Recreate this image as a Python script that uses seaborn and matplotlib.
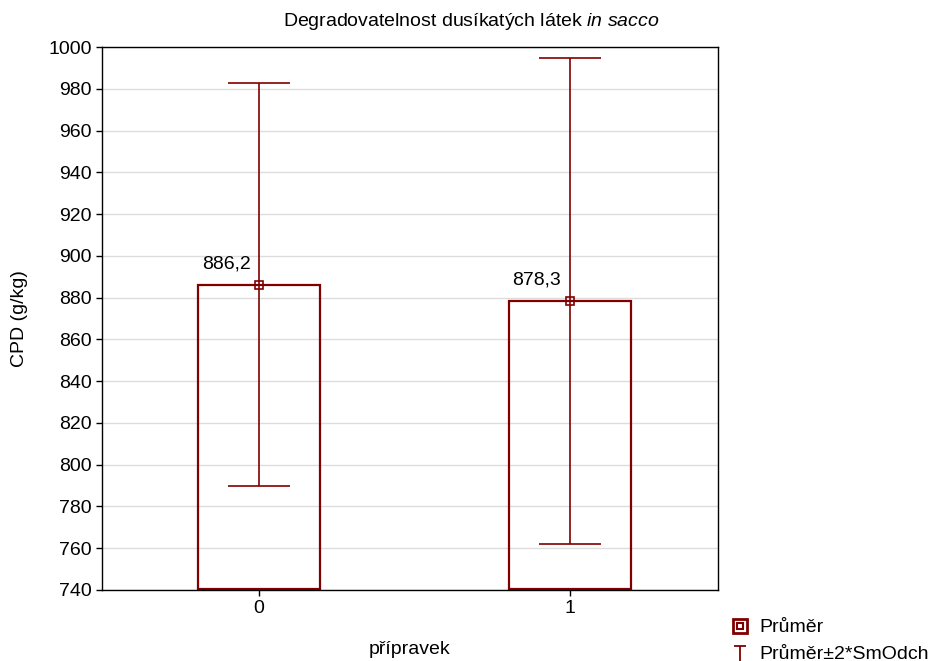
import numpy as np
import pandas as pd
import matplotlib
matplotlib.use("Agg")
import matplotlib.pyplot as plt
import seaborn as sns
from matplotlib.lines import Line2D
from matplotlib.path import Path
from matplotlib.legend_handler import HandlerTuple

categories = ["0", "1"]
means = [886.2, 878.3]
two_sd = [96.4, 116.5]
value_labels = ["886,2", "878,3"]
y_ticks = list(range(740, 1001, 20))

sns.set_theme(style="white")
plt.rcParams['font.family'] = ['Liberation Sans', 'DejaVu Sans']
plt.rcParams['mathtext.fontset'] = 'custom'
plt.rcParams['mathtext.it'] = 'Liberation Sans:italic'
plt.rcParams['mathtext.rm'] = 'Liberation Sans'
plt.rcParams['text.color'] = 'black'
plt.rcParams['axes.labelcolor'] = 'black'
plt.rcParams['xtick.color'] = 'black'
plt.rcParams['ytick.color'] = 'black'

FS = 14
red = "#800000"
YMIN, YMAX = 740, 1000
df = pd.DataFrame({"pripravek": categories, "mean": means})

fig = plt.figure(figsize=(9.43, 6.61), dpi=100)
ax = fig.add_axes([102/943, 1-590/661, 616/943, 543/661])

sns.barplot(data=df, x="pripravek", y="mean", ax=ax, fill=False, color=red,
            width=0.395, errorbar=None, linewidth=1.6, edgecolor=red)
for p in ax.patches:
    p.set_edgecolor(red)
    top = p.get_y() + p.get_height()
    p.set_y(YMIN + 0.3)
    p.set_height(top - (YMIN + 0.3))
    p.set_zorder(2.5)

xs = np.arange(len(categories))
ax.errorbar(xs, means, yerr=two_sd, fmt='none', ecolor=red, elinewidth=1.2,
            capsize=22, capthick=1.2, zorder=3)
ax.plot(xs, means, linestyle='none', marker='s', markersize=6,
        markerfacecolor='none', markeredgecolor=red, markeredgewidth=1.2, zorder=4)
for x, m, lab in zip(xs, means, value_labels):
    ax.annotate(lab, (x, m), xytext=(-33, 21), textcoords='offset pixels',
                ha='center', va='center', fontsize=FS, color='black')

ax.set_ylim(YMIN, YMAX)
ax.set_xlim(-0.505, 1.476)
ax.set_yticks(y_ticks)
ax.set_yticklabels([str(v) for v in y_ticks])
ax.yaxis.grid(True, color='#dddddd', linewidth=1)
ax.set_axisbelow(True)
for s in ax.spines.values():
    s.set_color('black')
    s.set_linewidth(1)
ax.tick_params(axis='both', direction='out', length=4, width=1, color='black',
               labelsize=FS, left=True, bottom=True, labelcolor='black')
ax.set_xlabel("přípravek", fontsize=FS, va='center')
ax.xaxis.set_label_coords(0.5, -(650-590)/543)
ax.set_ylabel("CPD (g/kg)", fontsize=FS, va='center')
ax.yaxis.set_label_coords(-(102-20)/616, 0.5)

fig.text(0.5, 1-22/661, r"Degradovatelnost dusíkatých látek $\it{in\ sacco}$",
         ha='center', va='center', fontsize=FS)

# legend
path_T = Path([(-1, 1), (1, 1), (0, 1), (0, -1.6)],
              [Path.MOVETO, Path.LINETO, Path.MOVETO, Path.LINETO])
h_outer = Line2D([], [], linestyle='none', marker='s', markersize=10,
                 markerfacecolor='none', markeredgecolor=red, markeredgewidth=2)
h_inner = Line2D([], [], linestyle='none', marker='s', markersize=4,
                 markerfacecolor='none', markeredgecolor=red, markeredgewidth=1.5)
h_T = Line2D([], [], linestyle='none', marker=path_T, markersize=14,
             markerfacecolor='none', markeredgecolor=red, markeredgewidth=1.3)
fig.legend([(h_outer, h_inner), h_T], ["Průměr", "Průměr±2*SmOdch"],
           handler_map={tuple: HandlerTuple(ndivide=1, pad=0)},
           loc='lower left', bbox_to_anchor=(722/943, -0.016), frameon=False,
           fontsize=FS, handlelength=1.0, handletextpad=0.45, labelspacing=0.45,
           borderaxespad=0.05)

fig.savefig("out.png", dpi=100)
